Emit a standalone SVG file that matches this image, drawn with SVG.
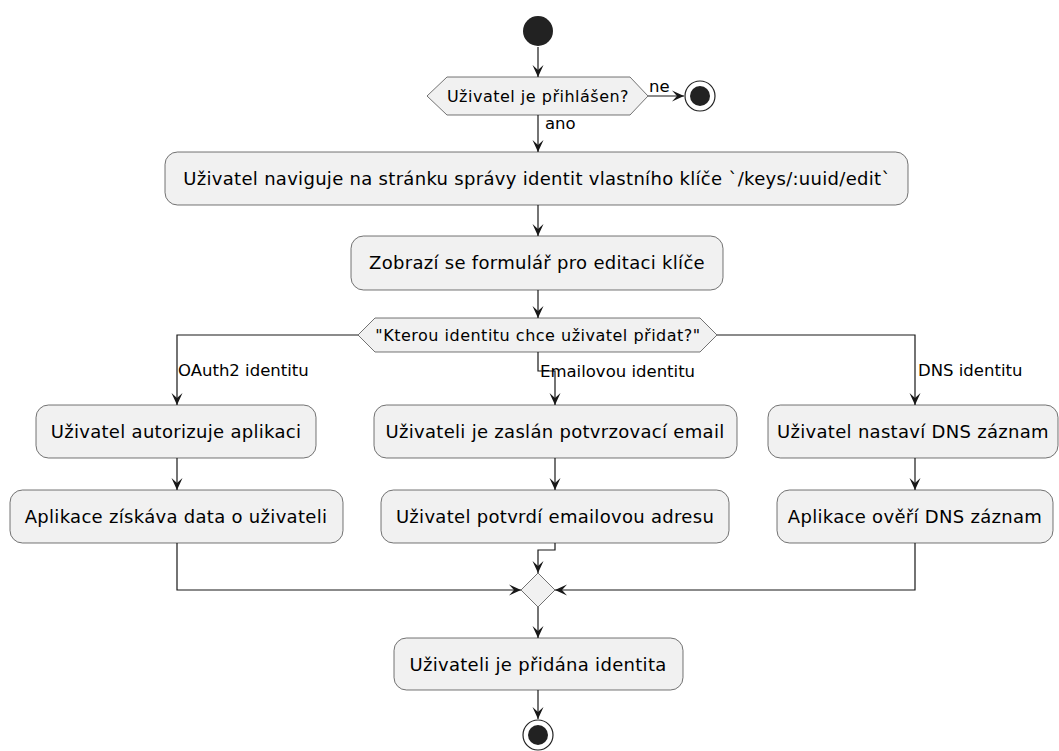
<svg xmlns="http://www.w3.org/2000/svg" width="1059" height="751" viewBox="0 0 1059 751">
<defs>
<style>
.box{fill:#F1F1F1;stroke:#181818;stroke-width:0.6}
.t{font-family:"DejaVu Sans",sans-serif;font-size:18px;letter-spacing:0.3px;fill:#000;text-anchor:middle}
.d{font-family:"DejaVu Sans",sans-serif;font-size:16px;letter-spacing:0.5px;fill:#000;text-anchor:middle}
.l{font-family:"DejaVu Sans",sans-serif;font-size:16.5px;fill:#000}
.ln{fill:none;stroke:#181818;stroke-width:1.2}
</style>
<marker id="ah" viewBox="0 0 13 12" refX="12" refY="6" markerWidth="13" markerHeight="12" markerUnits="userSpaceOnUse" orient="auto">
<path d="M0,0.5 L12,6 L0,11.5 L5,6 Z" fill="#181818"/>
</marker>
</defs>
<rect width="1059" height="751" fill="#fff"/>
<g id="connectors">
<path class="ln" d="M538,47 V77" marker-end="url(#ah)"/>
<path class="ln" d="M648,96 H684" marker-end="url(#ah)"/>
<path class="ln" d="M538,115 V152" marker-end="url(#ah)"/>
<path class="ln" d="M538,205 V236" marker-end="url(#ah)"/>
<path class="ln" d="M538,290 V318" marker-end="url(#ah)"/>
<path class="ln" d="M358,335 H177 V405" marker-end="url(#ah)"/>
<path class="ln" d="M538,352 V371 H555 V405" marker-end="url(#ah)"/>
<path class="ln" d="M717,335 H915 V405" marker-end="url(#ah)"/>
<path class="ln" d="M177,458 V490" marker-end="url(#ah)"/>
<path class="ln" d="M555,458 V490" marker-end="url(#ah)"/>
<path class="ln" d="M915,458 V490" marker-end="url(#ah)"/>
<path class="ln" d="M177,543 V590 H521" marker-end="url(#ah)"/>
<path class="ln" d="M555,543 V550 H538 V573" marker-end="url(#ah)"/>
<path class="ln" d="M915,543 V590 H555" marker-end="url(#ah)"/>
<path class="ln" d="M538,607 V638" marker-end="url(#ah)"/>
<path class="ln" d="M538,690 V719" marker-end="url(#ah)"/>
<text class="l" x="649" y="92">ne</text>
<text class="l" x="545" y="129">ano</text>
<text class="l" x="178" y="376">OAuth2 identitu</text>
<text class="l" x="540" y="377">Emailovou identitu</text>
<text class="l" x="918" y="376">DNS identitu</text>
</g>
<g id="start"><circle cx="538" cy="31" r="15" fill="#222"/></g>
<g id="dec1">
<polygon class="box" points="427,96 447,77 630,77 648,96 630,115 447,115"/>
<text class="d" x="538" y="101.5">Uživatel je přihlášen?</text>
</g>
<g id="end1"><circle cx="700" cy="96" r="15" fill="#fff" stroke="#222" stroke-width="1.2"/><circle cx="700" cy="96" r="10" fill="#222"/></g>
<g id="box1">
<rect class="box" x="165" y="152" width="743" height="53" rx="12.5"/>
<text class="t" x="537" y="185">Uživatel naviguje na stránku správy identit vlastního klíče `/keys/:uuid/edit`</text>
</g>
<g id="box2">
<rect class="box" x="351" y="236" width="372" height="54" rx="12.5"/>
<text class="t" x="537" y="269">Zobrazí se formulář pro editaci klíče</text>
</g>
<g id="dec2">
<polygon class="box" points="358,335 375,318 700,318 717,335 700,352 375,352"/>
<text class="d" x="538" y="340.5">"Kterou identitu chce uživatel přidat?"</text>
</g>
<g id="oauth1">
<rect class="box" x="36" y="405" width="280" height="53" rx="12.5"/>
<text class="t" x="176" y="438">Uživatel autorizuje aplikaci</text>
</g>
<g id="oauth2">
<rect class="box" x="10" y="490" width="333" height="53" rx="12.5"/>
<text class="t" x="176" y="523">Aplikace získáva data o uživateli</text>
</g>
<g id="email1">
<rect class="box" x="374" y="405" width="363" height="53" rx="12.5"/>
<text class="t" x="555" y="438">Uživateli je zaslán potvrzovací email</text>
</g>
<g id="email2">
<rect class="box" x="381" y="490" width="348" height="53" rx="12.5"/>
<text class="t" x="555" y="523">Uživatel potvrdí emailovou adresu</text>
</g>
<g id="dns1">
<rect class="box" x="768" y="405" width="290" height="53" rx="12.5"/>
<text class="t" x="913" y="438">Uživatel nastaví DNS záznam</text>
</g>
<g id="dns2">
<rect class="box" x="777" y="490" width="276" height="53" rx="12.5"/>
<text class="t" x="915" y="523">Aplikace ověří DNS záznam</text>
</g>
<g id="merge">
<polygon class="box" points="538,573 555,590 538,607 521,590"/>
</g>
<g id="box3">
<rect class="box" x="394" y="638" width="289" height="52" rx="12.5"/>
<text class="t" x="538" y="670.5">Uživateli je přidána identita</text>
</g>
<g id="end2"><circle cx="538" cy="735" r="15" fill="#fff" stroke="#222" stroke-width="1.2"/><circle cx="538" cy="735" r="10" fill="#222"/></g>
</svg>
